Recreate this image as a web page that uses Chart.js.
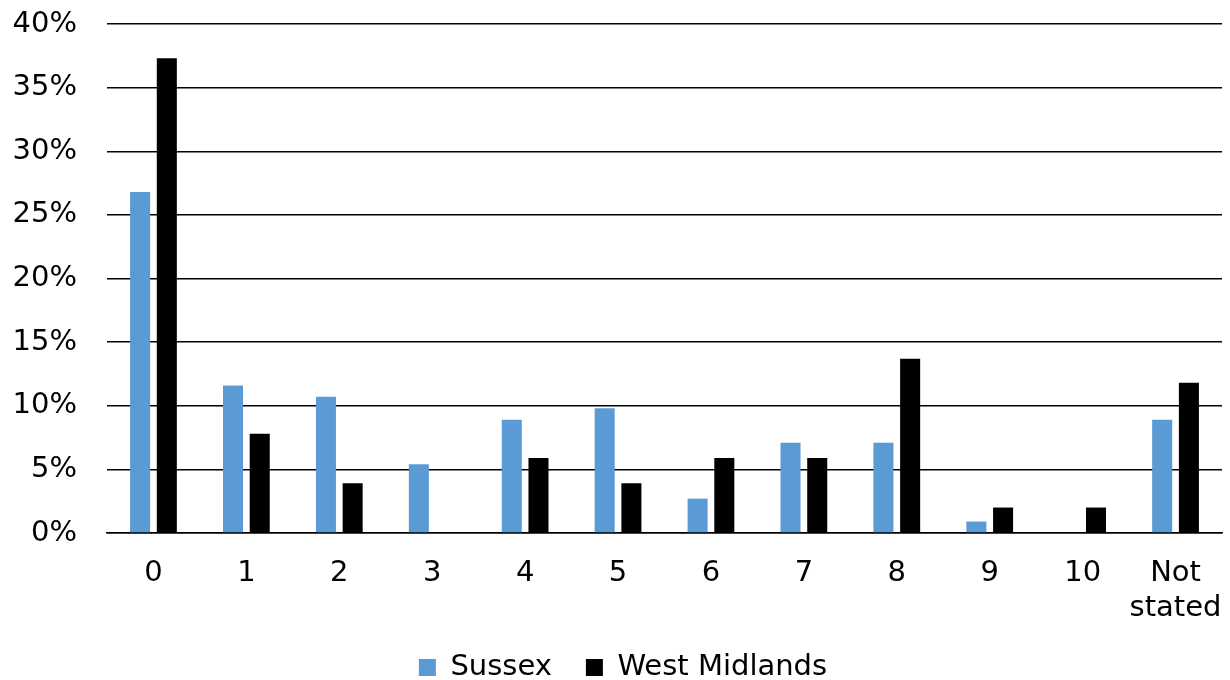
<!DOCTYPE html>
<html>
<head>
<meta charset="utf-8">
<script src="https://cdn.jsdelivr.net/npm/chart.js@4/dist/chart.umd.min.js"></script>
<style>
  html, body { margin: 0; padding: 0; background: #fff; }
  #wrap { width: 1230px; height: 680px; }
</style>
</head>
<body>
<div id="wrap"><canvas id="c" width="1230" height="680"></canvas></div>
<script>
// Categories along the x axis
const categories = ['0', '1', '2', '3', '4', '5', '6', '7', '8', '9', '10', ['Not', 'stated']];

// Share of respondents (%) per category
const sussex = [26.8, 11.6, 10.7, 5.4, 8.9, 9.8, 2.7, 7.1, 7.1, 0.9, 0, 8.9];
const westMidlands = [37.3, 7.8, 3.9, 0, 5.9, 3.9, 5.9, 5.9, 13.7, 2.0, 2.0, 11.8];

// Y axis range and step
const yMin = 0;
const yMax = 40;
const yStep = 5;

const FONT = { family: '"DejaVu Sans", Verdana, sans-serif', size: 29 };

// Nudge the legend row so it sits centred under the plot area
const legendShift = {
  id: 'legendShift',
  afterLayout(chart) {
    const lg = chart.legend;
    if (!lg) return;
    const dx = 12;
    lg.left += dx;
    lg.right += dx;
  }
};

new Chart(document.getElementById('c'), {
  type: 'bar',
  data: {
    labels: categories,
    datasets: [
      { label: 'Sussex', data: sussex, backgroundColor: '#5B9BD5' },
      { label: 'West Midlands', data: westMidlands, backgroundColor: '#000000' }
    ]
  },
  plugins: [legendShift],
  options: {
    responsive: false,
    animation: false,
    devicePixelRatio: 1,
    categoryPercentage: 0.575,
    barPercentage: 0.75,
    layout: { padding: { top: 24, right: 8, left: 0, bottom: -12 } },
    plugins: {
      tooltip: { enabled: false },
      legend: {
        position: 'bottom',
        labels: {
          font: FONT,
          color: '#000',
          boxWidth: 17,
          boxHeight: 17,
          padding: 34
        }
      }
    },
    scales: {
      x: {
        afterFit: (scale) => { scale.paddingLeft = 0; scale.paddingRight = 0; scale.height = 86; },
        grid: { display: false, drawTicks: false },
        border: { display: true, color: '#000', width: 1.5 },
        ticks: { font: FONT, color: '#000', padding: 23, maxRotation: 0, autoSkip: false }
      },
      y: {
        min: yMin,
        max: yMax,
        afterFit: (scale) => { scale.width = 107; scale.paddingTop = 0; scale.paddingBottom = 0; },
        grid: { color: '#000', lineWidth: 1.5, drawTicks: false },
        border: { display: false },
        ticks: {
          stepSize: yStep,
          font: FONT,
          color: '#000',
          padding: 30,
          callback: (v) => v + '%'
        }
      }
    }
  }
});
</script>
</body>
</html>
